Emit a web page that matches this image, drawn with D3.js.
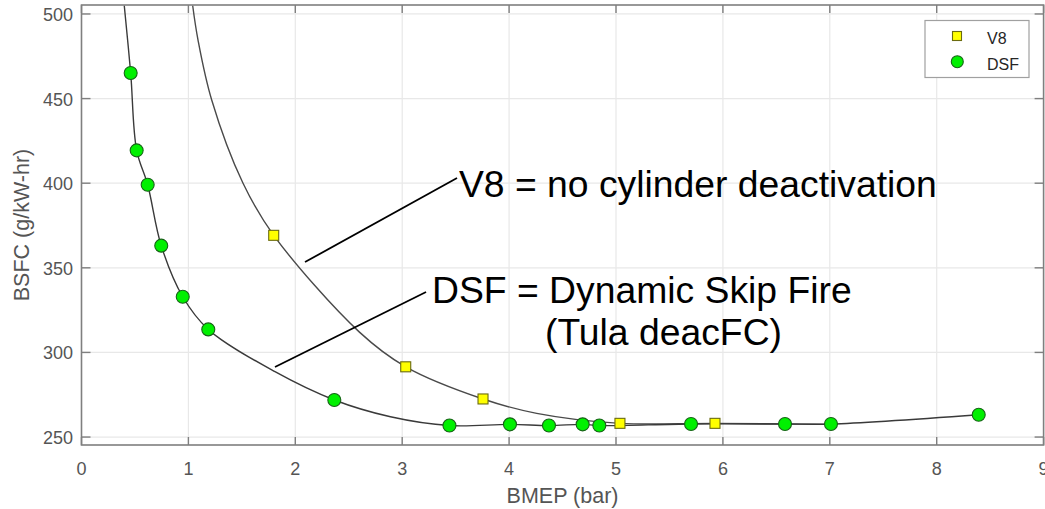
<!DOCTYPE html>
<html>
<head>
<meta charset="utf-8">
<script src="https://cdn.jsdelivr.net/npm/d3@7"></script>
<style>
  html, body { margin: 0; padding: 0; background: #fff; }
  svg { display: block; font-family: "Liberation Sans", Arial, sans-serif; }
</style>
</head>
<body>
<svg id="chart" width="1045" height="509"></svg>
<script>
// ---- data ----
const dsfX = [0.46, 0.516, 0.619, 0.746, 0.947, 1.186, 2.365, 3.442, 4.008, 4.373, 4.688, 4.844, 5.702, 6.581, 7.011, 8.393];
const dsfY = [465.1, 419.4, 399.1, 363.1, 332.9, 313.6, 271.9, 256.8, 257.5, 256.8, 257.5, 256.8, 257.7, 257.7, 257.7, 263.2];
const v8X = [1.798, 3.033, 3.756, 5.037, 5.926];
const v8Y = [369.2, 291.5, 272.5, 258.1, 258.1];

// fitted curve knots
const dsfCurveX = [0.40, 0.46, 0.516, 0.619, 0.746, 0.947, 1.186, 1.81, 2.365, 2.89, 3.442, 4.008, 4.373, 4.688, 4.844, 5.702, 6.581, 7.011, 8.393];
const dsfCurveY = [505, 465.1, 419.4, 399.1, 363.1, 332.9, 313.6, 288.6, 271.9, 262, 256.8, 257.5, 256.8, 257.5, 256.8, 257.7, 257.7, 257.7, 263.2];
const v8CurveX = [1.04, 1.09, 1.218, 1.51, 1.798, 2.6, 3.033, 3.756, 4.258, 5.037, 5.926, 7.0];
const v8CurveY = [505, 484.6, 449.2, 400.1, 369.2, 312, 291.5, 272.5, 264, 258.1, 258.1, 257.5];

const xTicks = [0, 1, 2, 3, 4, 5, 6, 7, 8, 9];
const yTicks = [250, 300, 350, 400, 450, 500];
const seriesNames = ["V8", "DSF"];
const xLabel = "BMEP (bar)";
const yLabel = "BSFC (g/kW-hr)";

// annotations: [x1, y1, x2, y2] in data units, text anchor in data units
const v8Note = { line: [2.091, 353.4, 3.513, 403.1], text: "V8 = no cylinder deactivation", at: [3.531, 391.8] };
const dsfNote = { line: [1.810, 291.4, 3.223, 335.7], text: "DSF = Dynamic Skip Fire", at: [3.279, 329.2] };
const dsfNote2 = { text: "(Tula deacFC)", at: [4.336, 304.4] };

// ---- layout ----
const svg = d3.select("#chart");
const L = 81.5, R = 1043.6, T = 5, B = 445;
const x = d3.scaleLinear().domain([0, 9]).range([L, R]);
const y = d3.scaleLinear().domain([245.3, 505.3]).range([B, T]);

const tickColor = "#555";
const frameColor = "#7f7f7f";

// background
svg.append("rect").attr("x", L).attr("y", T).attr("width", R - L).attr("height", B - T).attr("fill", "#fff");

// grid
const grid = svg.append("g");
grid.selectAll("line.gx").data(xTicks.slice(1, -1)).join("line")
  .attr("x1", d => x(d)).attr("x2", d => x(d)).attr("y1", T).attr("y2", B)
  .attr("stroke", "#e8e8e8").attr("stroke-width", 1.2);
grid.selectAll("line.gy").data(yTicks).join("line")
  .attr("x1", L).attr("x2", R).attr("y1", d => y(d)).attr("y2", d => y(d))
  .attr("stroke", "#e8e8e8").attr("stroke-width", 1.2);

// clip
svg.append("clipPath").attr("id", "clip").append("rect")
  .attr("x", L).attr("y", T).attr("width", R - L).attr("height", B - T);

const line = d3.line().x(d => x(d[0])).y(d => y(d[1])).curve(d3.curveCatmullRom.alpha(0.5));
const dsfCurve = dsfCurveX.map((v, i) => [v, dsfCurveY[i]]);
const v8Curve = v8CurveX.map((v, i) => [v, v8CurveY[i]]);

const plot = svg.append("g").attr("clip-path", "url(#clip)");
plot.append("path").datum(v8Curve).attr("d", line)
  .attr("fill", "none").attr("stroke", "#4a4a4a").attr("stroke-width", 1.4);
plot.append("path").datum(dsfCurve).attr("d", line)
  .attr("fill", "none").attr("stroke", "#3a3a3a").attr("stroke-width", 1.4);

// annotation lines
[v8Note, dsfNote].forEach(n => {
  svg.append("line")
    .attr("x1", x(n.line[0])).attr("y1", y(n.line[1]))
    .attr("x2", x(n.line[2])).attr("y2", y(n.line[3]))
    .attr("stroke", "#000").attr("stroke-width", 1.8);
});

// markers
const dsfPts = dsfX.map((v, i) => [v, dsfY[i]]);
const v8Pts = v8X.map((v, i) => [v, v8Y[i]]);
plot.selectAll("circle.dsf").data(dsfPts).join("circle")
  .attr("cx", d => x(d[0])).attr("cy", d => y(d[1])).attr("r", 6.5)
  .attr("fill", "#00f000").attr("stroke", "#176317").attr("stroke-width", 1.1);
plot.selectAll("rect.v8").data(v8Pts).join("rect")
  .attr("x", d => x(d[0]) - 5).attr("y", d => y(d[1]) - 5)
  .attr("width", 10).attr("height", 10)
  .attr("fill", "#ffff00").attr("stroke", "#6b6b10").attr("stroke-width", 1.1);

// frame
svg.append("rect").attr("x", L).attr("y", T).attr("width", R - L).attr("height", B - T)
  .attr("fill", "none").attr("stroke", frameColor).attr("stroke-width", 1.6);

// ticks (inside, mirrored)
const tk = svg.append("g").attr("stroke", frameColor).attr("stroke-width", 1.4);
xTicks.forEach(d => {
  tk.append("line").attr("x1", x(d)).attr("x2", x(d)).attr("y1", B).attr("y2", B - 8);
  tk.append("line").attr("x1", x(d)).attr("x2", x(d)).attr("y1", T).attr("y2", T + 8);
});
yTicks.forEach(d => {
  tk.append("line").attr("x1", L).attr("x2", L + 9).attr("y1", y(d)).attr("y2", y(d));
  tk.append("line").attr("x1", R).attr("x2", R - 9).attr("y1", y(d)).attr("y2", y(d));
});

// tick labels
svg.append("g").selectAll("text").data(xTicks).join("text")
  .attr("x", d => x(d)).attr("y", 474.5)
  .attr("text-anchor", "middle").attr("font-size", 18).attr("fill", tickColor)
  .text(d => d);
svg.append("g").selectAll("text").data(yTicks).join("text")
  .attr("x", 73).attr("y", d => y(d) + 7)
  .attr("text-anchor", "end").attr("font-size", 18).attr("fill", tickColor)
  .text(d => d);

// axis labels
svg.append("text").attr("x", x(4.5)).attr("y", 502.5)
  .attr("text-anchor", "middle").attr("font-size", 21.5).attr("fill", tickColor)
  .text(xLabel);
svg.append("text").attr("transform", `translate(29,${y(375.3)}) rotate(-90)`)
  .attr("text-anchor", "middle").attr("font-size", 21.5).attr("fill", tickColor)
  .text(yLabel);

// annotation texts
[v8Note, dsfNote, dsfNote2].forEach(n => {
  svg.append("text").attr("x", x(n.at[0])).attr("y", y(n.at[1]))
    .attr("font-size", 37.3).attr("fill", "#000").text(n.text);
});

// legend
const lg = svg.append("g");
lg.append("rect").attr("x", 925).attr("y", 20.5).attr("width", 104).attr("height", 57)
  .attr("fill", "#fff").attr("stroke", "#a0a0a0").attr("stroke-width", 1.2);
lg.append("rect").attr("x", 952.5).attr("y", 31.5).attr("width", 9).attr("height", 9)
  .attr("fill", "#ffff00").attr("stroke", "#6b6b10").attr("stroke-width", 1.1);
lg.append("circle").attr("cx", 957.3).attr("cy", 61.7).attr("r", 6)
  .attr("fill", "#00f000").attr("stroke", "#176317").attr("stroke-width", 1.1);
lg.selectAll("text").data(seriesNames).join("text")
  .attr("x", 987).attr("y", (d, i) => 43.5 + i * 26)
  .attr("font-size", 16).attr("fill", "#262626").text(d => d);
</script>
</body>
</html>
